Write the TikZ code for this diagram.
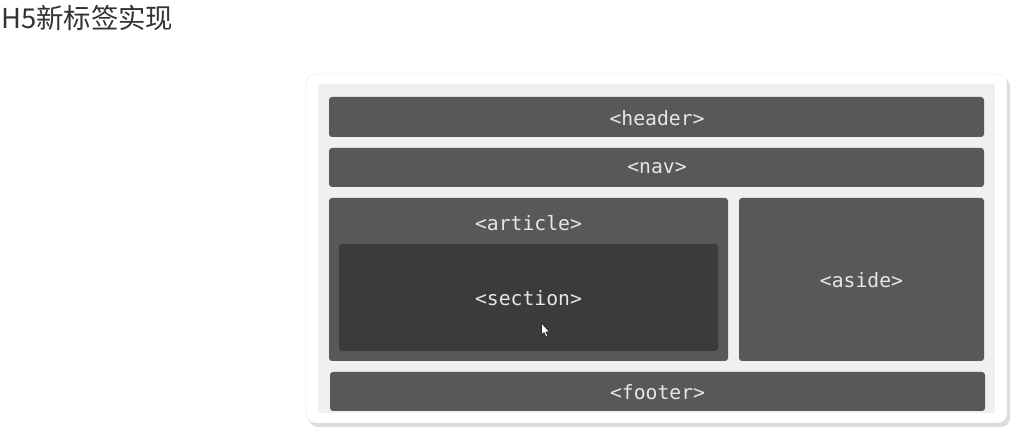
\documentclass[tikz,border=0pt]{standalone}
\usepackage{fontspec}
\newfontfamily\cjk{Noto Sans CJK SC}
\newfontfamily\monofam{DejaVu Sans Mono}
\definecolor{boxgray}{HTML}{585858}
\definecolor{secgray}{HTML}{3B3B3B}
\definecolor{panelgray}{HTML}{F0F0F0}
\definecolor{txtgray}{HTML}{E6E6E6}
\definecolor{titlegray}{HTML}{333333}
\tikzset{
  blk/.style={fill=boxgray, rounded corners=3bp, draw=none},
  lbl/.style={text=txtgray, font=\monofam\fontsize{19.8}{22}\selectfont, inner sep=0pt},
}
\begin{document}
\begin{tikzpicture}[x=1bp,y=-1bp]
\useasboundingbox (0,0) rectangle (1024,442);
\fill[white] (0,0) rectangle (1024,442);
\node[anchor=west, text=titlegray, font=\cjk\fontsize{27.5}{30}\selectfont, inner sep=0pt] (title) at (1,18) {H5新标签实现};
% outer frame with shadow
\fill[black!25, opacity=0.5, rounded corners=9bp] (309,78) rectangle (1010,427);
\fill[black!15, opacity=0.5, rounded corners=9bp] (307,76) rectangle (1009,425);
\draw[black!10, fill=white, rounded corners=9bp] (306,74) rectangle (1007,423);
\fill[panelgray] (318,84) rectangle (995,413);
% blocks
\fill[blk] (329,97) rectangle (984,137);
\node[lbl] (header) at (657,118) {<header>};
\fill[blk] (329,148) rectangle (984,187);
\node[lbl] (nav) at (657,168.5) {<nav>};
\fill[blk] (329,198) rectangle (728,361);
\node[lbl] (article) at (528.5,223) {<article>};
\fill[secgray, rounded corners=3bp] (339,244) rectangle (718,351);
\node[lbl] (section) at (528.5,298) {<section>};
\fill[blk] (739,198) rectangle (984,361);
\node[lbl] (aside) at (861.5,280) {<aside>};
\fill[blk] (330,372) rectangle (985,411);
\node[lbl] (footer) at (657.5,392.5) {<footer>};
% mouse cursor
\draw[black, fill=white, line width=0.5bp, line join=round]
  (541.5,323) -- (541.5,335) -- (544,332.5) -- (546,337) -- (547.8,336.2) -- (545.8,331.8) -- (549.5,331.8) -- cycle;
\end{tikzpicture}
\end{document}
